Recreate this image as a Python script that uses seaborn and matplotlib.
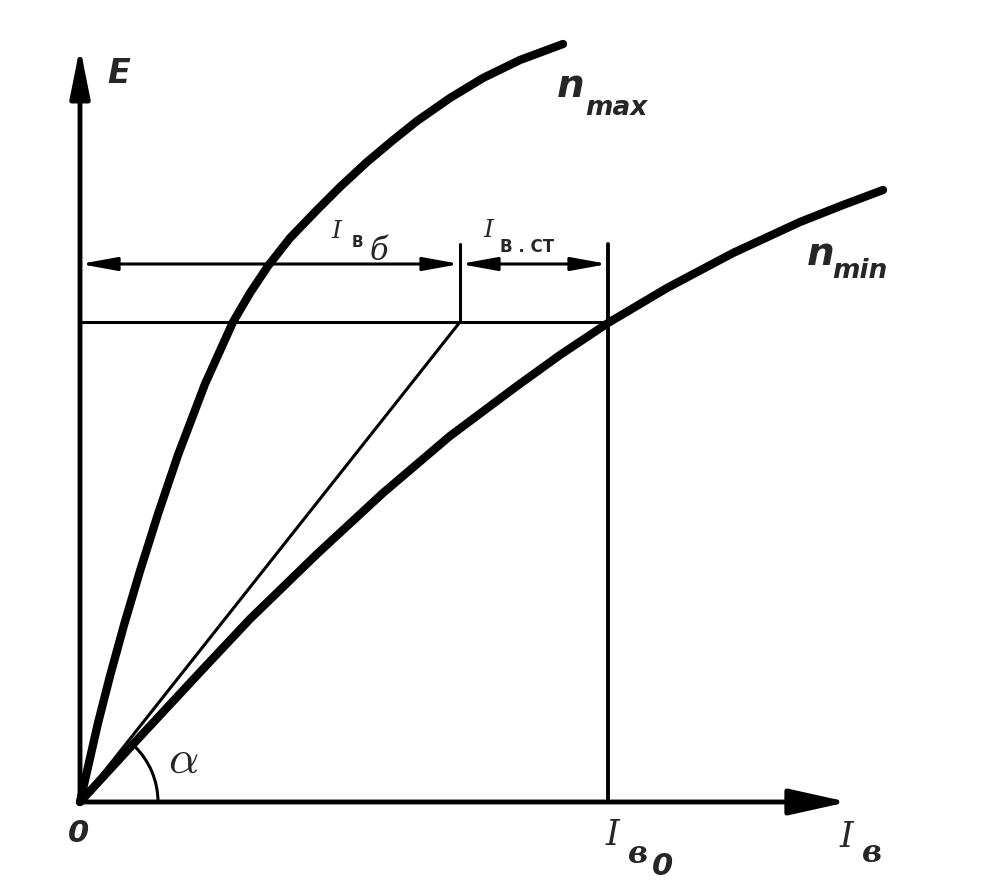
import numpy as np
import matplotlib.pyplot as plt
import seaborn as sns
from matplotlib.patches import Arc

# characteristic curves E(I_v) (origin at bottom-left)
nmax_i = [0, 8, 18, 30, 44, 60, 78, 98, 125, 153, 170, 188, 210, 237,
          260, 287, 312, 337, 370, 403, 440, 483]
nmax_e = [0, 35, 79, 126, 177, 231, 288, 347, 418, 480, 509, 536, 564,
          592, 615, 640, 661, 681, 704, 724, 742, 758]

nmin_i = [0, 57, 123, 170, 237, 303, 370, 437, 480, 528, 587, 653,
          720, 763, 803]
nmin_e = [0, 62, 133, 183, 248, 309, 366, 416, 447, 479, 514, 549,
          580, 597, 612]

E_op = 480      # operating level
I_vb = 380      # end of the thin line
I_v0 = 528      # I_v0 on the n_min curve
E_dim = 538     # dimension arrows level
dim_top = 558   # top of the dimension ticks
x_end = 768     # axis arrow tips
y_end = 755

sns.set_style("white")

fig = plt.figure(figsize=(10.05, 8.87), dpi=100)
ax = fig.add_axes([0, 0, 1, 1])
ax.set_xlim(-80, 925)
ax.set_ylim(-84, 803)
ax.axis("off")

sans = "DejaVu Sans"
serif = "DejaVu Serif"

# curves
sns.lineplot(x=nmax_i, y=nmax_e, ax=ax, color="k", lw=6, sort=False,
             estimator=None, solid_capstyle="round", solid_joinstyle="round")
sns.lineplot(x=nmin_i, y=nmin_e, ax=ax, color="k", lw=6, sort=False,
             estimator=None, solid_capstyle="round", solid_joinstyle="round")
sns.lineplot(x=[0, I_vb], y=[0, E_op], ax=ax, color="k", lw=2.2,
             sort=False, estimator=None)

# construction lines
ax.plot([0, I_v0], [E_op, E_op], color="k", lw=2.2)
ax.plot([I_vb, I_vb], [E_op, dim_top], color="k", lw=2.2)
ax.plot([I_v0, I_v0], [0, dim_top], color="k", lw=2.8)

# axes with arrows
ax.annotate("", xy=(0, y_end), xytext=(0, 0),
            arrowprops=dict(arrowstyle="-|>,head_length=1.5,head_width=0.3",
                            lw=3.5, color="k", shrinkA=0, shrinkB=0,
                            mutation_scale=20))
ax.annotate("", xy=(x_end, 0), xytext=(0, 0),
            arrowprops=dict(arrowstyle="-|>,head_length=1.8,head_width=0.4",
                            lw=3.5, color="k", shrinkA=0, shrinkB=0,
                            mutation_scale=20))

# dimension arrows
for a, b in [(0, I_vb), (I_vb, I_v0)]:
    ax.annotate("", xy=(b, E_dim), xytext=(a, E_dim),
                arrowprops=dict(arrowstyle="<|-|>,head_length=2.2,head_width=0.4",
                                lw=2.2, color="k", shrinkA=0, shrinkB=0,
                                mutation_scale=10))

# angle alpha
ax.add_patch(Arc((0, 0), 156, 156, theta1=0, theta2=46, color="k", lw=2.2))

# labels
ax.text(27, 720, "E", fontsize=24, family=sans, style="italic",
        fontweight="bold")
ax.text(-12, -39, "0", fontsize=22, family=sans, style="italic",
        fontweight="bold")
ax.text(88, 30, r"$\alpha$", fontsize=34, math_fontfamily="cm")

ax.text(477, 706, "n", fontsize=28, family=sans, style="italic",
        fontweight="bold")
ax.text(505, 688, "max", fontsize=19, family=sans, style="italic",
        fontweight="bold")
ax.text(727, 538, "n", fontsize=28, family=sans, style="italic",
        fontweight="bold")
ax.text(752, 525, "min", fontsize=19, family=sans, style="italic",
        fontweight="bold")

ax.text(251, 565, "I", fontsize=18, family=serif, style="italic")
ax.text(272, 556, "В", fontsize=11, family=sans, fontweight="bold")
ax.text(290, 543, "б", fontsize=22, family=serif, style="italic")

ax.text(403, 566, "I", fontsize=18, family=serif, style="italic")
ax.text(420, 551, "В . СТ", fontsize=12, family=sans, fontweight="bold")

ax.text(526, -42, "I", fontsize=25, family=serif, style="italic")
ax.text(548, -60, "в", fontsize=22, family=serif, style="italic",
        fontweight="bold")
ax.text(572, -72, "0", fontsize=22, family=sans, style="italic",
        fontweight="bold")

ax.text(760, -44, "I", fontsize=25, family=serif, style="italic")
ax.text(782, -59, "в", fontsize=22, family=serif, style="italic",
        fontweight="bold")

fig.savefig("out.png", dpi=100)
plt.close()
